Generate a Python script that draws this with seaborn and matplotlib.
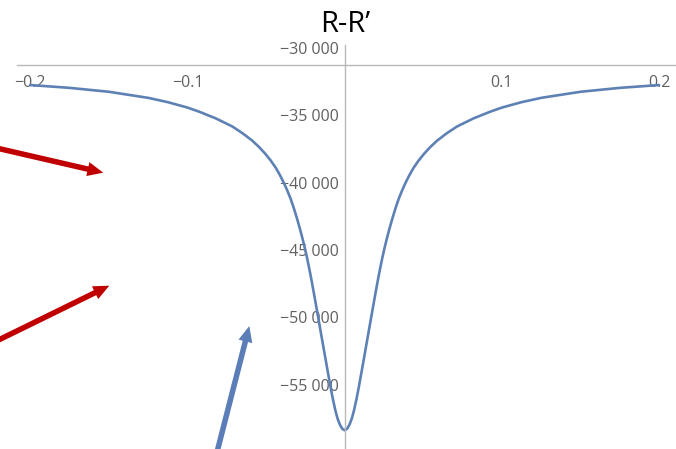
import matplotlib
matplotlib.use("Agg")
import matplotlib.pyplot as plt
from matplotlib.ticker import FixedLocator
import seaborn as sns

# curve values (x from -0.2 to 0.2)
x_vals = [-0.2, -0.175, -0.15, -0.125, -0.1125, -0.1, -0.0927, -0.082, -0.0715, -0.065,
          -0.0588, -0.0545, -0.0503, -0.047, -0.0439, -0.0412, -0.0386, -0.0365, -0.0344,
          -0.0323, -0.0302, -0.0285, -0.027, -0.0255, -0.024, -0.0225, -0.021, -0.0195,
          -0.018, -0.0165, -0.015, -0.0135, -0.012, -0.0105, -0.009, -0.0075, -0.006,
          -0.0045, -0.003, -0.0015, 0.0,
          0.0015, 0.003, 0.0045, 0.006, 0.0075, 0.009, 0.0105, 0.012, 0.0135, 0.015,
          0.0165, 0.018, 0.0195, 0.021, 0.0225, 0.024, 0.0255, 0.027, 0.0285, 0.0302,
          0.0323, 0.0344, 0.0365, 0.0386, 0.0412, 0.0439, 0.047, 0.0503, 0.0545, 0.0588,
          0.065, 0.0715, 0.082, 0.0927, 0.1, 0.1125, 0.125, 0.15, 0.175, 0.2]
y_vals = [-32780, -32990, -33280, -33730, -34050, -34450, -34750, -35250, -35850, -36350,
          -36900, -37370, -37900, -38380, -38900, -39450, -40050, -40600, -41200,
          -41920, -42720, -43420, -44080, -44780, -45550, -46400, -47300, -48260,
          -49240, -50230, -51220, -52210, -53200, -54180, -55150, -56050, -56850,
          -57500, -57950, -58250, -58350,
          -58250, -57950, -57500, -56850, -56050, -55150, -54180, -53200, -52210, -51220,
          -50230, -49240, -48260, -47300, -46400, -45550, -44780, -44080, -43420, -42720,
          -41920, -41200, -40600, -40050, -39450, -38900, -38380, -37900, -37370, -36900,
          -36350, -35850, -35250, -34750, -34450, -34050, -33730, -33280, -32990, -32780]

x_major = [-0.2, -0.1, 0.1, 0.2]
x_labels = ["\u22120.2", "\u22120.1", "0.1", "0.2"]
x_minor = [-0.18, -0.16, -0.14, -0.12, -0.08, -0.06, -0.04, -0.02,
           0.02, 0.04, 0.06, 0.08, 0.12, 0.14, 0.16, 0.18]
y_major = [-55000, -50000, -45000, -40000, -35000, -30000]
y_labels = ["\u221255 000", "\u221250 000", "\u221245 000",
            "\u221240 000", "\u221235 000", "\u221230 000"]
y_minor = [v for v in range(-59000, -29000, 1000) if v % 5000 != 0]

title = "R-R\u2019"

sns.set_style("white")
plt.rcParams['font.family'] = ['Open Sans', 'DejaVu Sans']

fig = plt.figure(figsize=(6.76, 4.49), dpi=100)
ax = fig.add_axes([0, 0, 1, 1])

sns.lineplot(x=x_vals, y=y_vals, ax=ax, color='#5e81b5', linewidth=1.9, sort=False)

ax.set_xlim(-0.2193, 0.2108)
ax.set_ylim(-59741, -26481)

axis_col = '#b8b8b8'
for side in ['top', 'right']:
    ax.spines[side].set_visible(False)
ax.spines['left'].set_position(('data', 0))
ax.spines['bottom'].set_position(('data', -31300))
ax.spines['left'].set_bounds(-59741, -29800)
ax.spines['bottom'].set_bounds(-0.2085, 0.2108)
for side in ['left', 'bottom']:
    ax.spines[side].set_color(axis_col)
    ax.spines[side].set_linewidth(1.0)

ax.set_xticks(x_major)
ax.set_xticklabels(x_labels)
ax.xaxis.set_minor_locator(FixedLocator(x_minor))
ax.set_yticks(y_major)
ax.set_yticklabels(y_labels)
ax.yaxis.set_minor_locator(FixedLocator(y_minor))

ax.tick_params(which='both', direction='in', color=axis_col, width=0.8,
               labelcolor='#606060', labelsize=11.5)
ax.tick_params(which='major', length=5)
ax.tick_params(which='minor', length=3)
ax.tick_params(axis='x', which='major', pad=7)
ax.tick_params(axis='y', which='major', pad=4)
ax.set_xlabel("")
ax.set_ylabel("")

fig.text(345 / 676, 1 - 31.7 / 449, title, ha='center', va='baseline',
         fontsize=21, color='black')

# annotation arrows
arrow_red = dict(arrowstyle="simple,head_length=0.95,head_width=0.85,tail_width=0.33",
                 color='#c00000', lw=0, shrinkA=0, shrinkB=0, mutation_scale=12)
arrow_blue = dict(arrowstyle="simple,head_length=0.95,head_width=0.85,tail_width=0.33",
                  color='#5b7db8', lw=0, shrinkA=0, shrinkB=0, mutation_scale=12)
ax.annotate("", xy=(0.1528, 0.6154), xytext=(-0.01, 0.672),
            xycoords='figure fraction', textcoords='figure fraction', arrowprops=arrow_red)
ax.annotate("", xy=(0.1617, 0.3637), xytext=(-0.01, 0.237),
            xycoords='figure fraction', textcoords='figure fraction', arrowprops=arrow_red)
ax.annotate("", xy=(0.3688, 0.2739), xytext=(0.3205, -0.01),
            xycoords='figure fraction', textcoords='figure fraction', arrowprops=arrow_blue)

fig.savefig("out.png", dpi=100)
